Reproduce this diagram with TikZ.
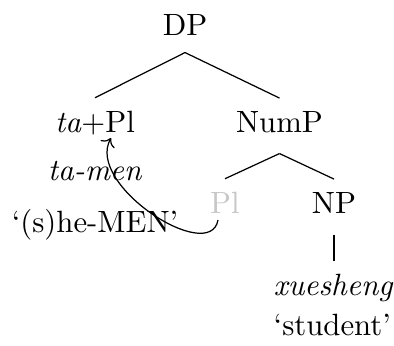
\documentclass[tikz,border=0pt]{standalone}
\usepackage{tikz}
\usetikzlibrary{arrows.meta,positioning}
\tikzset{
  cat/.style={anchor=base, inner xsep=1pt, inner ysep=4pt, text depth=2.8pt},
  trace/.style={cat, text=black!22},
  gloss/.style={anchor=base, inner sep=1pt},
  branch/.style={line width=0.4pt},
  move/.style={->, line width=0.4pt},
}
\begin{document}
\begin{tikzpicture}[x=0.325pt, y=-0.325pt]
\useasboundingbox (0,0) rectangle (394,345);
\node[cat, text depth=1.5pt] (dp) at (185,35) {DP};
\node[cat] (tapl) at (95,132) {\textit{ta}+Pl};
\node[cat] (nump) at (279.5,132) {NumP};
\node[trace] (pl) at (225,213) {Pl};
\node[cat] (np) at (334,213) {NP};
\node[cat, anchor=base west] (xue) at (270,295) {\textit{xuesheng}};
\node[gloss, below=13pt of xue.base west, anchor=base west] (stu) {`student'};
\node[gloss, below=15.6pt of tapl.base, anchor=base] (tamen) {\textit{ta-men}};
\node[gloss, below=16.9pt of tamen.base, anchor=base] (shemen) {`(s)he-MEN'};
% branches
\draw[branch] (dp.south) -- (tapl.north);
\draw[branch] (dp.south) -- (nump.north);
\draw[branch] (nump.south) -- (pl.north);
\draw[branch] (nump.south) -- (np.north);
\draw[branch] (np.south) -- (np.south |- xue.north);
% movement
\draw[move] ([shift={(-7,7)}]pl.base) .. controls (210,265) and (85,185) .. ([shift={(16,6)}]tapl.base);
\end{tikzpicture}
\end{document}
